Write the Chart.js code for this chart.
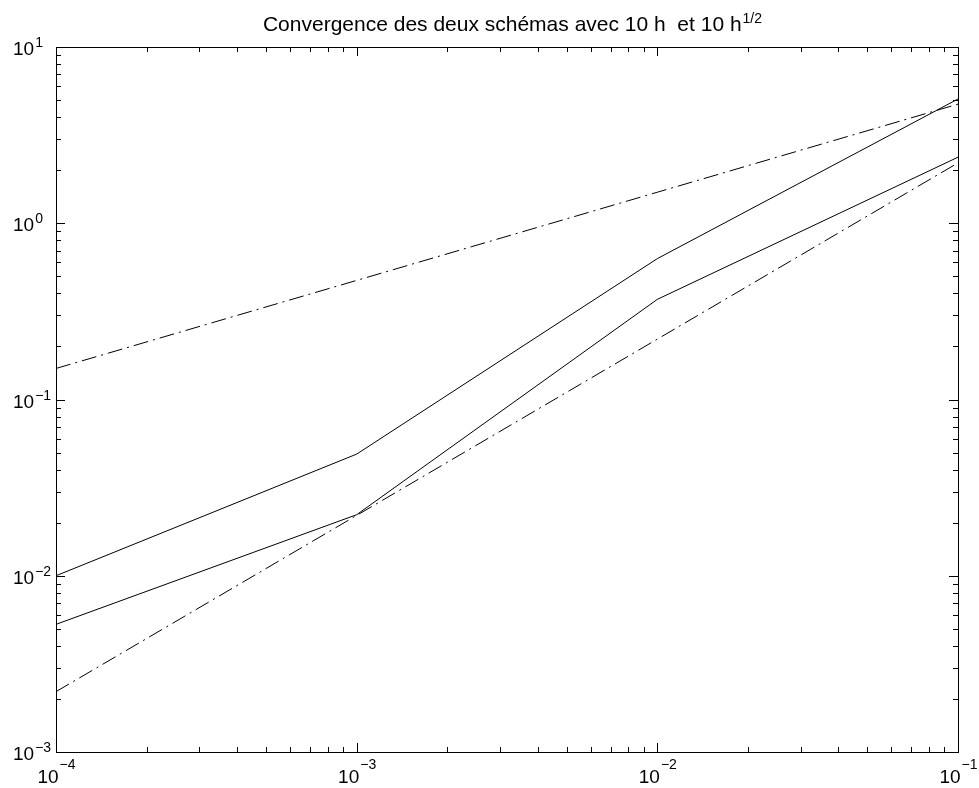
<!DOCTYPE html>
<html>
<head>
<meta charset="utf-8">
<script src="https://cdn.jsdelivr.net/npm/chart.js@4"></script>
<style>
  html, body { margin: 0; padding: 0; background: #ffffff; }
  #wrap { width: 979px; height: 788px; }
</style>
</head>
<body>
<div id="wrap"><canvas id="myChart" width="979" height="788"></canvas></div>
<script>
// pas h et erreurs
var hValues = [1e-4, 1e-3, 1e-2, 1e-1];
var errSchemaA = [0.0100, 0.049, 0.63, 5.07];
var errSchemaB = [0.0053, 0.0222, 0.37, 2.37];
var refSqrtH = [0.150, 0.474, 1.50, 4.74];
var refH = [0.0022, 0.022, 0.22, 2.2];

var xTickExponents = [-4, -3, -2, -1];
var yTickExponents = [-3, -2, -1, 0, 1];

var titleMain = 'Convergence des deux sch\u00e9mas avec 10 h  et 10 h';
var titleSup = '1/2';

var FONT = 'Arial, "Liberation Sans", Helvetica, sans-serif';

function toPoints(ys) {
  return ys.map(function(y, i) { return { x: hValues[i], y: y }; });
}

function lineSet(ys, dash) {
  return {
    data: toPoints(ys),
    borderColor: '#000000',
    borderWidth: 1,
    borderDash: dash,
    fill: false,
    pointRadius: 0,
    tension: 0
  };
}

// cadre, graduations internes, libelles 10^n et titre avec exposant
var matlabAxes = {
  id: 'matlabAxes',
  afterDraw: function(chart) {
    var ctx = chart.ctx;
    var a = chart.chartArea;
    var xs = chart.scales.x, ys = chart.scales.y;
    ctx.save();
    ctx.strokeStyle = '#000000';
    ctx.lineWidth = 1;

    ctx.strokeRect(Math.round(a.left) + 0.5, Math.round(a.top) + 0.5,
                   Math.round(a.right - a.left), Math.round(a.bottom - a.top));

    ctx.beginPath();
    var e, k, v, p, len;
    for (e = xTickExponents[0]; e <= xTickExponents[xTickExponents.length - 1]; e++) {
      for (k = 1; k <= 9; k++) {
        if (e == xTickExponents[xTickExponents.length - 1] && k > 1) break;
        v = k * Math.pow(10, e);
        p = Math.round(xs.getPixelForValue(v)) + 0.5;
        len = (k == 1) ? 9 : 5;
        ctx.moveTo(p, a.bottom); ctx.lineTo(p, a.bottom - len);
        ctx.moveTo(p, a.top); ctx.lineTo(p, a.top + len);
      }
    }
    for (e = yTickExponents[0]; e <= yTickExponents[yTickExponents.length - 1]; e++) {
      for (k = 1; k <= 9; k++) {
        if (e == yTickExponents[yTickExponents.length - 1] && k > 1) break;
        v = k * Math.pow(10, e);
        p = Math.round(ys.getPixelForValue(v)) + 0.5;
        len = (k == 1) ? 9 : 5;
        ctx.moveTo(a.left, p); ctx.lineTo(a.left + len, p);
        ctx.moveTo(a.right, p); ctx.lineTo(a.right - len, p);
      }
    }
    ctx.stroke();

    ctx.fillStyle = '#000000';
    ctx.textBaseline = 'alphabetic';
    var baseFont = '19px ' + FONT;
    var supFont = '14px ' + FONT;

    function expLabel(n) {
      return (n < 0 ? '\u2212' : '') + Math.abs(n);
    }

    // libelles de l'axe x
    xTickExponents.forEach(function(n) {
      var px = xs.getPixelForValue(Math.pow(10, n));
      ctx.font = baseFont;
      var w1 = ctx.measureText('10').width;
      ctx.font = supFont;
      var w2 = ctx.measureText(expLabel(n)).width;
      var x0 = px - (w1 + w2) / 2;
      ctx.font = baseFont;
      ctx.fillText('10', x0, a.bottom + 31);
      ctx.font = supFont;
      ctx.fillText(expLabel(n), x0 + w1 + 1, a.bottom + 17);
    });

    // libelles de l'axe y (alignes a gauche comme dans la figure)
    yTickExponents.forEach(function(n) {
      var py = ys.getPixelForValue(Math.pow(10, n));
      ctx.font = baseFont;
      var w1 = ctx.measureText('10').width;
      var x0 = a.left - 43;
      ctx.fillText('10', x0, py + 8);
      ctx.font = supFont;
      ctx.fillText(expLabel(n), x0 + w1 + 1, py);
    });

    // titre
    var tFont = '21px ' + FONT;
    var tSup = '14px ' + FONT;
    ctx.font = tFont;
    var tw1 = ctx.measureText(titleMain).width;
    ctx.font = tSup;
    var tw2 = ctx.measureText(titleSup).width;
    var tx = (a.left + a.right) / 2 + 5 - (tw1 + tw2) / 2;
    ctx.font = tFont;
    ctx.fillText(titleMain, tx, 31);
    ctx.font = tSup;
    ctx.fillText(titleSup, tx + tw1 + 1, 23);

    ctx.restore();
  }
};

var chart = new Chart(document.getElementById('myChart'), {
  type: 'line',
  data: {
    datasets: [
      lineSet(errSchemaA, []),
      lineSet(errSchemaB, []),
      lineSet(refSqrtH, [15, 5, 2, 5]),
      lineSet(refH, [15, 5, 2, 5])
    ]
  },
  options: {
    responsive: false,
    animation: false,
    devicePixelRatio: 1,
    events: [],
    layout: {
      padding: { left: 56, right: 21, top: 47, bottom: 36 }
    },
    scales: {
      x: {
        type: 'logarithmic',
        display: false,
        min: Math.pow(10, xTickExponents[0]),
        max: Math.pow(10, xTickExponents[xTickExponents.length - 1])
      },
      y: {
        type: 'logarithmic',
        display: false,
        min: Math.pow(10, yTickExponents[0]),
        max: Math.pow(10, yTickExponents[yTickExponents.length - 1])
      }
    },
    plugins: {
      legend: { display: false },
      title: { display: false },
      tooltip: { enabled: false }
    }
  },
  plugins: [matlabAxes]
});
</script>
</body>
</html>
